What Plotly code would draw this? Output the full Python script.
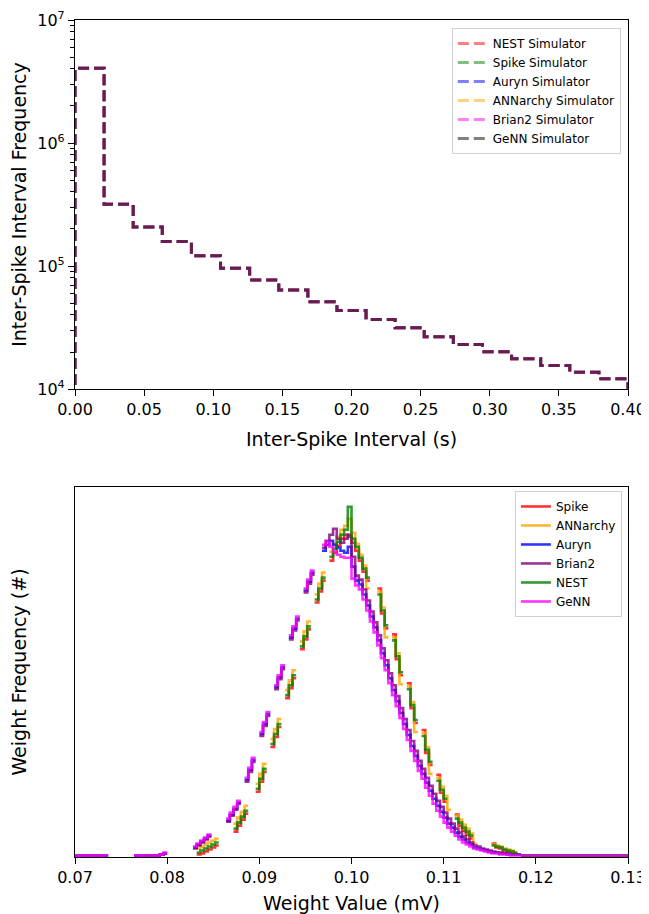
import plotly.graph_objects as go

# ---------------- Top panel: inter-spike interval histogram ----------------
isi_bin_edges = [0.0, 0.02105, 0.04211, 0.06316, 0.08421, 0.10526, 0.12632, 0.14737,
                 0.16842, 0.18947, 0.21053, 0.23158, 0.25263, 0.27368, 0.29474, 0.31579,
                 0.33684, 0.35789, 0.37895, 0.40]
isi_counts = [4.06e6, 3.18e5, 2.08e5, 1.58e5, 1.21e5, 9.6e4, 7.69e4, 6.37e4, 5.13e4,
              4.35e4, 3.68e4, 3.15e4, 2.66e4, 2.30e4, 2.01e4, 1.76e4, 1.55e4, 1.37e4, 1.21e4]
isi_simulators = ["NEST Simulator", "Spike Simulator", "Auryn Simulator",
                  "ANNarchy Simulator", "Brian2 Simulator", "GeNN Simulator"]
isi_colors = ["rgba(255,0,0,0.5)", "rgba(0,128,0,0.5)", "rgba(0,0,255,0.5)",
              "rgba(255,165,0,0.5)", "rgba(255,0,255,0.5)", "rgba(0,0,0,0.5)"]
isi_ticks = [1e4, 1e5, 1e6, 1e7]
isi_ticktext = ["10<sup>4</sup>", "10<sup>5</sup>", "10<sup>6</sup>", "10<sup>7</sup>"]
isi_xticks = [0.0, 0.05, 0.10, 0.15, 0.20, 0.25, 0.30, 0.35, 0.40]

# ---------------- Bottom panel: weight histogram ----------------
WEIGHT_BIN = 0.0004  # mV, histogram bin width
tail_zeros = [0, 0, 0, 0, 0, 0, 0, 0, 0, 0, 0, 0, 0, 0, 0, 0, 0, 0, 0, 0,
              0, 0, 0, 0, 0, 0, 0, 0, 0]

# runs of non-empty bins: (left edge of first bin in mV, counts)
spike_runs = [
    (0.0832, [1, 2, 4, 6, 8, 10]),
    (0.0872, [24, 30, 36, 42]),
    (0.0896, [64, 74, 84]),
    (0.0912, [109, 119, 129]),
    (0.0928, [158, 168, 178]),
    (0.0944, [207, 217, 227]),
    (0.0960, [254, 265, 276]),
    (0.0976, [296, 304, 311, 318, 322, 320, 314, 306, 296, 285, 276]),
    (0.1028, [268, 243, 228]),
    (0.1044, [222, 197, 181]),
    (0.1060, [173, 148, 133]),
    (0.1076, [126, 103, 91]),
    (0.1092, [81, 63, 54]),
    (0.1112, [41, 30, 25, 21, 17]),
    (0.1152, [12, 8, 7, 5, 4, 3, 2]),
    (0.1184, tail_zeros),
]
annarchy_runs = [
    (0.0832, [7, 9, 11, 13, 15, 17]),
    (0.0872, [32, 38, 44, 50]),
    (0.0896, [72, 82, 92]),
    (0.0912, [117, 127, 137]),
    (0.0928, [166, 176, 186]),
    (0.0944, [215, 225, 235]),
    (0.0960, [262, 273, 284]),
    (0.0976, [305, 313, 320, 327, 331, 338, 324, 313, 302, 291, 268]),
    (0.1028, [265, 249, 219]),
    (0.1044, [219, 203, 172]),
    (0.1060, [170, 154, 124]),
    (0.1076, [123, 109, 82]),
    (0.1092, [78, 69, 60, 46]),
    (0.1112, [40, 36, 31, 27, 22, 12]),
    (0.1152, [11, 10, 9, 7, 6, 5, 1]),
    (0.1184, tail_zeros),
]
auryn_runs = [
    (0.0700, [0, 0, 0, 0, 0, 0, 0, 0, 0]),
    (0.0764, [0, 0, 0, 0, 0, 0, 0, 1, 2]),
    (0.0828, [8, 11, 14, 17, 20]),
    (0.0864, [35, 41, 47, 53]),
    (0.0884, [76, 86, 96]),
    (0.0900, [122, 132, 142]),
    (0.0916, [169, 179, 189]),
    (0.0932, [219, 228, 238]),
    (0.0948, [266, 275, 284]),
    (0.0968, [306, 312, 316, 312, 309, 306, 304, 310, 290,
              276, 272, 262, 251, 240, 229, 216, 203, 191, 178, 166, 155, 143, 132, 121,
              110, 100, 90, 82, 73, 65, 57, 50, 44, 38, 32, 28, 23, 19, 16, 13, 11, 8,
              7, 6, 5, 4, 3, 3, 2, 2, 1, 1, 1, 1]),
    (0.1184, tail_zeros),
]
brian2_runs = [
    (0.0700, [0, 0, 0, 0, 0, 0, 0, 0, 0]),
    (0.0764, [0, 0, 0, 0, 0, 0, 0, 1, 2]),
    (0.0828, [7, 10, 13, 16, 19]),
    (0.0864, [34, 40, 46, 52]),
    (0.0884, [74, 84, 94]),
    (0.0900, [120, 130, 140]),
    (0.0916, [167, 177, 187]),
    (0.0932, [217, 226, 236]),
    (0.0948, [264, 273, 282]),
    (0.0968, [309, 316, 322, 328, 318, 314, 318, 322, 300,
              281, 277, 267, 256, 245, 234, 221, 208, 196, 183, 171, 160, 148, 137, 126,
              115, 105, 95, 87, 78, 70, 62, 55, 49, 43, 37, 32, 27, 23, 19, 16, 13, 10,
              9, 7, 6, 5, 4, 3, 3, 2, 2, 1, 1, 1]),
    (0.1184, tail_zeros),
]
nest_runs = [
    (0.0832, [3, 5, 7, 9, 11, 13]),
    (0.0872, [27, 33, 39, 45]),
    (0.0896, [67, 77, 87]),
    (0.0912, [112, 122, 132]),
    (0.0928, [161, 171, 181]),
    (0.0944, [210, 220, 230]),
    (0.0960, [257, 268, 279]),
    (0.0976, [300, 308, 315, 322, 327, 350, 318, 310, 299, 288, 279]),
    (0.1028, [262, 246, 231]),
    (0.1044, [216, 200, 184]),
    (0.1060, [167, 151, 136]),
    (0.1076, [120, 106, 94]),
    (0.1092, [75, 66, 57]),
    (0.1112, [37, 33, 28, 24, 20]),
    (0.1152, [10, 9, 8, 6, 5, 4, 3]),
    (0.1184, tail_zeros),
]
genn_runs = [
    (0.0700, [0, 0, 0, 0, 0, 0, 0, 0, 0]),
    (0.0764, [0, 0, 0, 0, 0, 0, 0, 1, 3]),
    (0.0828, [9, 12, 15, 18, 21]),
    (0.0864, [37, 43, 49, 55]),
    (0.0884, [78, 88, 98]),
    (0.0900, [124, 134, 144]),
    (0.0916, [171, 181, 191]),
    (0.0932, [221, 230, 240]),
    (0.0948, [268, 277, 286]),
    (0.0968, [312, 315, 310, 305, 302, 300, 299, 299, 278,
              271, 267, 257, 246, 235, 224, 211, 198, 186, 173, 161, 150, 138, 127, 116,
              105, 95, 85, 77, 68, 60, 52, 45, 39, 33, 28, 24, 20, 16, 13, 11, 9,
              7, 6, 5, 4, 3, 2, 2, 1, 1, 1, 0, 0, 0]),
    (0.1184, tail_zeros),
]
weight_series = [
    ("Spike", spike_runs, "rgba(255,0,0,0.8)"),
    ("ANNarchy", annarchy_runs, "rgba(255,165,0,0.8)"),
    ("Auryn", auryn_runs, "rgba(0,0,255,0.8)"),
    ("Brian2", brian2_runs, "rgba(128,0,128,0.8)"),
    ("NEST", nest_runs, "rgba(0,128,0,0.8)"),
    ("GeNN", genn_runs, "rgba(255,0,255,0.8)"),
]
weight_xticks = [0.07, 0.08, 0.09, 0.10, 0.11, 0.12, 0.13]

FONT = "DejaVu Sans"
fig = go.Figure()

# top histogram (step outline, baseline below visible log range)
baseline = 1.0
for name, color in zip(isi_simulators, isi_colors):
    xs = [isi_bin_edges[0]] + isi_bin_edges[:-1] + [isi_bin_edges[-1]]
    ys = [baseline] + isi_counts + [baseline]
    fig.add_trace(go.Scatter(
        x=xs, y=ys, mode="lines", line_shape="hv", name=name,
        line=dict(color=color, width=3, dash="11px,5px"),
        xaxis="x", yaxis="y", legend="legend", hoverinfo="skip"))

# bottom histogram
for name, runs, color in weight_series:
    xs, ys = [], []
    for start, counts in runs:
        for i, c in enumerate(counts):
            xs.append(start + i * WEIGHT_BIN)
            ys.append(c)
        xs.append(start + len(counts) * WEIGHT_BIN)
        ys.append(counts[-1])
        xs.append(None)
        ys.append(None)
    fig.add_trace(go.Scatter(
        x=xs, y=ys, mode="lines", line_shape="hv", name=name, connectgaps=False,
        line=dict(color=color, width=2.6),
        xaxis="x2", yaxis="y2", legend="legend2", hoverinfo="skip"))

axis_common = dict(showline=True, mirror=True, linecolor="black", linewidth=1.2,
                   ticks="outside", ticklen=6, tickwidth=1.2, tickcolor="black",
                   showgrid=False, zeroline=False, automargin=False,
                   tickfont=dict(family=FONT, size=16, color="black"))
minor_vals = [m * 10 ** e for e in (4, 5, 6) for m in range(2, 10)]

# the page body adds an 8px offset, so the figure is 8px smaller than the window
fig.update_layout(
    width=641, height=906,
    margin=dict(l=67, r=21, t=12, b=57),
    paper_bgcolor="white", plot_bgcolor="white",
    font=dict(family=FONT, color="black"),
    showlegend=True,
    xaxis=dict(domain=[0, 1], anchor="y", range=[0, 0.4], tickvals=isi_xticks,
               tickformat=".2f",
               title=dict(text="Inter-Spike Interval (s)", font=dict(size=19), standoff=14),
               **axis_common),
    yaxis=dict(domain=[0.5591, 1], anchor="x", type="log", range=[4, 7],
               tickvals=isi_ticks, ticktext=isi_ticktext,
               minor=dict(tickmode="array", tickvals=minor_vals, ticks="outside",
                          ticklen=3.5, tickwidth=1, tickcolor="black", showgrid=False),
               title=dict(text="Inter-Spike Interval Frequency", font=dict(size=19), standoff=8),
               **axis_common),
    xaxis2=dict(domain=[0, 1], anchor="y2", range=[0.07, 0.13], tickvals=weight_xticks,
                tickformat=".2f",
                title=dict(text="Weight Value (mV)", font=dict(size=19), standoff=10),
                **axis_common),
    yaxis2=dict(domain=[0, 0.4421], anchor="x2", range=[-1.5, 370],
                showline=True, mirror=True, linecolor="black", linewidth=1.2,
                showticklabels=False, ticks="", showgrid=False, zeroline=False,
                automargin=False,
                title=dict(text="Weight Frequency (#)", font=dict(family=FONT, size=19, color="black"),
                           standoff=47)),
    legend=dict(x=0.987, y=0.9904, xanchor="right", yanchor="top",
                bgcolor="rgba(255,255,255,0.8)", bordercolor="#d0d0d0", borderwidth=1,
                font=dict(family=FONT, size=12, color="black"), tracegroupgap=0,
                itemwidth=30),
    legend2=dict(x=0.989, y=0.4373, xanchor="right", yanchor="top",
                 bgcolor="rgba(255,255,255,0.8)", bordercolor="#d0d0d0", borderwidth=1,
                 font=dict(family=FONT, size=12, color="black"), tracegroupgap=0,
                 itemwidth=30),
)

fig.write_html("out.html")
